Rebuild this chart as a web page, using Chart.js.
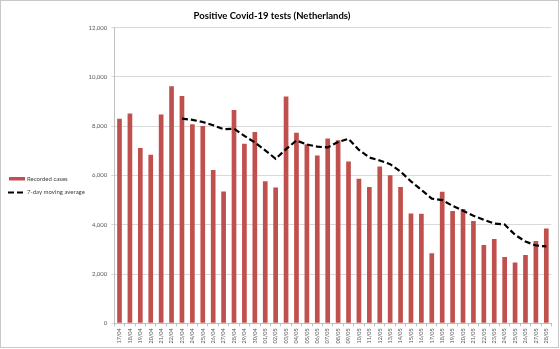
<!DOCTYPE html>
<html>
<head>
<meta charset="utf-8">
<script src="https://cdn.jsdelivr.net/npm/chart.js@4.4.0/dist/chart.umd.min.js"></script>
<style>
  body { margin: 0; background: #fff; }
  canvas { display: block; }
</style>
</head>
<body>
<canvas id="covidChart" width="560" height="349"></canvas>
<script>
// chart data
const dates = [
    '17/04', '18/04', '19/04', '20/04', '21/04', '22/04', '23/04', '24/04', '25/04', '26/04',
    '27/04', '28/04', '29/04', '30/04', '01/05', '02/05', '03/05', '04/05', '05/05', '06/05',
    '07/05', '08/05', '09/05', '10/05', '11/05', '12/05', '13/05', '14/05', '15/05', '16/05',
    '17/05', '18/05', '19/05', '20/05', '21/05', '22/05', '23/05', '24/05', '25/05', '26/05',
    '27/05', '28/05'
];

const recordedCases = [
    8300, 8520, 7120, 6840, 8480, 9620, 9230, 8080, 8010, 6220,
    5350, 8660, 7290, 7770, 5770, 5510, 9210, 7740, 7270, 6810,
    7500, 7430, 6570, 5870, 5530, 6370, 6010, 5530, 4460, 4450,
    2840, 5340, 4560, 4640, 4150, 3180, 3420, 2690, 2470, 2770,
    3340, 3850
];

const movingAverage = [
    null, null, null, null, null, null, 8310, 8260, 8170, 8040,
    7880, 7900, 7610, 7340, 7020, 6680, 7070, 7420, 7260, 7170,
    7140, 7360, 7490, 7040, 6730, 6610, 6460, 6160, 5760, 5420,
    5060, 5000, 4770, 4570, 4370, 4200, 4050, 4010, 3590, 3320,
    3160, 3120
];

const yTicks = [0, 2000, 4000, 6000, 8000, 10000, 12000];

const chartTitle = 'Positive Covid-19 tests (Netherlands)';
const FONT = 'Lato, "Liberation Sans", sans-serif';

// title, legend and frame are drawn by hand to sit where the original has them
const decorations = {
    id: 'decorations',
    beforeDraw(chart) {
        const ctx = chart.ctx;
        ctx.save();
        ctx.fillStyle = '#fff';
        ctx.fillRect(0, 0, chart.width, chart.height);
        ctx.restore();
    },
    afterDraw(chart) {
        const ctx = chart.ctx;
        ctx.save();

        ctx.strokeStyle = '#c8c8c8';
        ctx.lineWidth = 1;
        ctx.strokeRect(0.5, 0.5, 558, 347);

        ctx.fillStyle = '#000';
        ctx.font = 'bold 9.5px ' + FONT;
        ctx.textAlign = 'center';
        ctx.textBaseline = 'middle';
        ctx.fillText(chartTitle, 272, 15.5);

        const ds = chart.data.datasets;
        ctx.font = '6px ' + FONT;
        ctx.textAlign = 'left';

        ctx.fillStyle = ds[0].backgroundColor;
        ctx.fillRect(9, 177, 16, 3.5);
        ctx.fillStyle = '#404040';
        ctx.fillText(ds[0].label, 27, 179);

        ctx.strokeStyle = ds[1].borderColor;
        ctx.lineWidth = ds[1].borderWidth;
        ctx.setLineDash(ds[1].borderDash);
        ctx.beginPath();
        ctx.moveTo(8, 192.5);
        ctx.lineTo(26, 192.5);
        ctx.stroke();
        ctx.setLineDash([]);
        ctx.fillText(ds[1].label, 27, 192.5);

        ctx.restore();
    }
};

const ctx = document.getElementById('covidChart').getContext('2d');

new Chart(ctx, {
    type: 'bar',
    data: {
        labels: dates,
        datasets: [
            {
                type: 'bar',
                label: 'Recorded cases',
                data: recordedCases,
                backgroundColor: '#c0504d',
                barPercentage: 0.45,
                categoryPercentage: 1,
                order: 1
            },
            {
                type: 'line',
                label: '7-day moving average',
                data: movingAverage,
                borderColor: '#000',
                borderWidth: 2.2,
                borderDash: [6, 3],
                pointRadius: 0,
                tension: 0,
                fill: false,
                order: 0
            }
        ]
    },
    options: {
        responsive: false,
        devicePixelRatio: 1,
        animation: false,
        layout: { padding: { left: 0, top: 27.7, right: 8.5, bottom: 0 } },
        plugins: {
            legend: { display: false },
            title: { display: false },
            tooltip: { enabled: false }
        },
        scales: {
            x: {
                grid: {
                    display: true,
                    drawOnChartArea: false,
                    offset: true,
                    tickLength: 3,
                    color: '#bfbfbf'
                },
                border: { color: '#bfbfbf' },
                ticks: {
                    autoSkip: false,
                    maxRotation: 90,
                    minRotation: 90,
                    padding: 2,
                    color: '#595959',
                    font: { family: FONT, size: 5.5 }
                },
                afterFit(scale) { scale.height = 349 - 323.3; }
            },
            y: {
                min: 0,
                max: 12000,
                afterBuildTicks(scale) { scale.ticks = yTicks.map(v => ({ value: v })); },
                grid: { color: '#d9d9d9', tickLength: 3 },
                border: { color: '#bfbfbf' },
                ticks: {
                    padding: 4,
                    color: '#595959',
                    font: { family: FONT, size: 6 },
                    callback: v => v.toLocaleString('en-US')
                },
                afterFit(scale) { scale.width = 114.3; }
            }
        }
    },
    plugins: [decorations]
});
</script>
</body>
</html>
